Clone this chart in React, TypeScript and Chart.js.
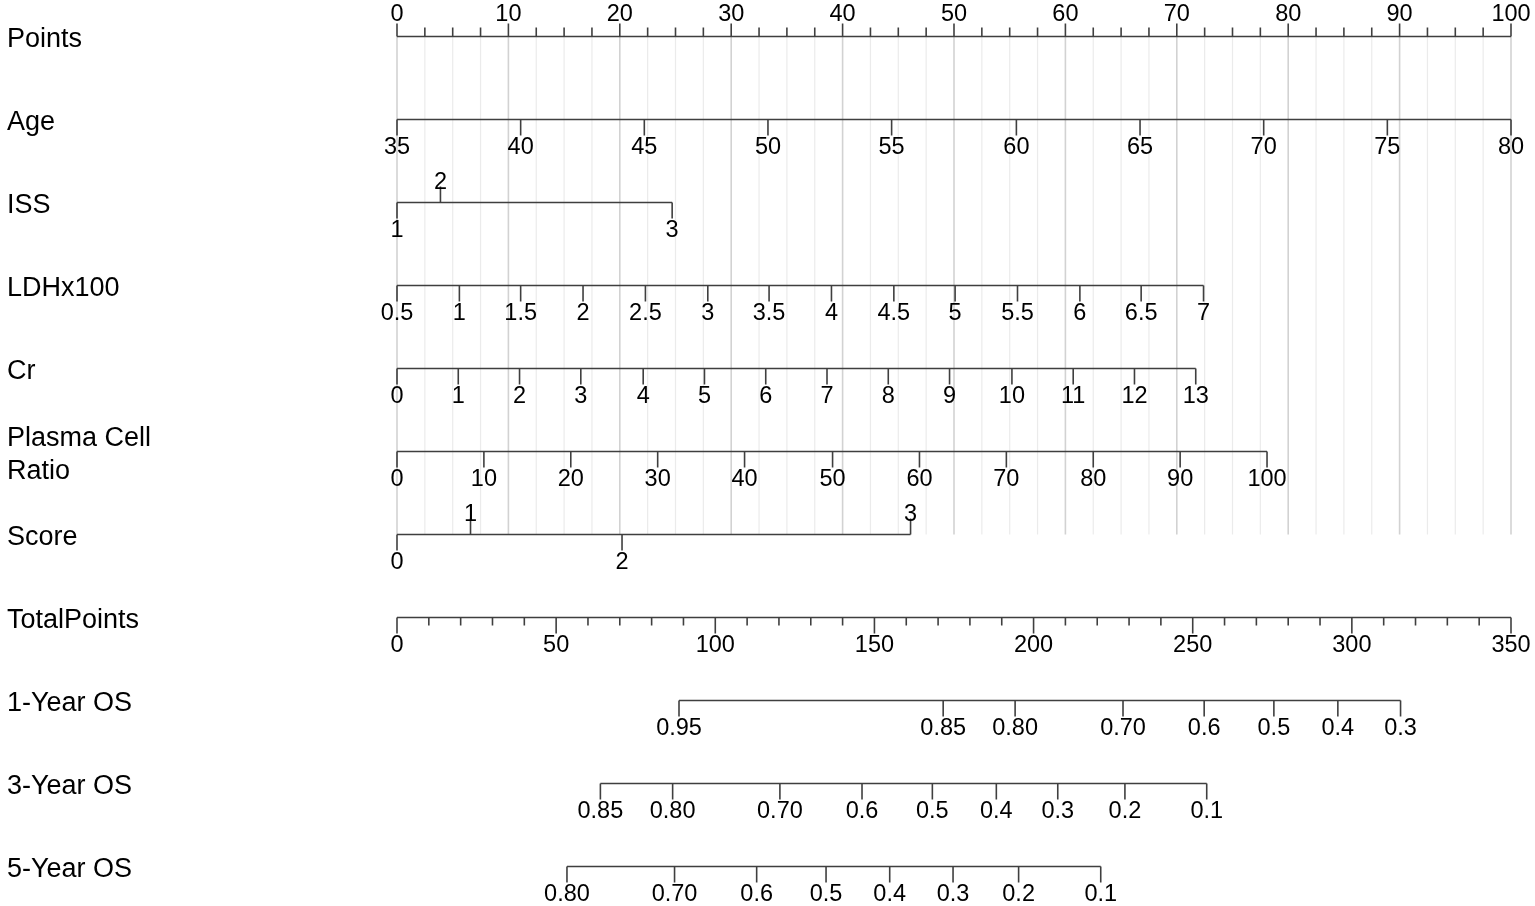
import React, { useEffect, useRef } from 'react';
import { Chart, registerables } from 'chart.js';

Chart.register(...registerables);

type Side = 'above' | 'below';

// row titles, top to bottom
const rowTitles = [
  'Points',
  'Age',
  'ISS',
  'LDHx100',
  'Cr',
  'Plasma Cell\nRatio',
  'Score',
  'TotalPoints',
  '1-Year OS',
  '3-Year OS',
  '5-Year OS',
];

// Points scale (0-100)
const pointsLabels = [0, 10, 20, 30, 40, 50, 60, 70, 80, 90, 100];
const pointsMinorStep = 2.5;

// predictors: tick labels and where they fall on the Points scale
const ageLabels = ['35', '40', '45', '50', '55', '60', '65', '70', '75', '80'];
const agePoints = [0, 11.1, 22.2, 33.3, 44.4, 55.6, 66.7, 77.8, 88.9, 100];

const issLabels = ['1', '2', '3'];
const issPoints = [0, 3.9, 24.7];
const issSides: Side[] = ['below', 'above', 'below'];

const ldhLabels = ['0.5', '1', '1.5', '2', '2.5', '3', '3.5', '4', '4.5', '5', '5.5', '6', '6.5', '7'];
const ldhPoints = [0, 5.6, 11.1, 16.7, 22.3, 27.9, 33.4, 39.0, 44.6, 50.1, 55.7, 61.3, 66.8, 72.4];

const crLabels = ['0', '1', '2', '3', '4', '5', '6', '7', '8', '9', '10', '11', '12', '13'];
const crPoints = [0, 5.5, 11.0, 16.5, 22.1, 27.6, 33.1, 38.6, 44.1, 49.6, 55.2, 60.7, 66.2, 71.7];

const plasmaLabels = ['0', '10', '20', '30', '40', '50', '60', '70', '80', '90', '100'];
const plasmaPoints = [0, 7.8, 15.6, 23.4, 31.2, 39.1, 46.9, 54.7, 62.5, 70.3, 78.1];

const scoreLabels = ['0', '1', '2', '3'];
const scorePoints = [0, 6.6, 20.2, 46.1];
const scoreSides: Side[] = ['below', 'above', 'below', 'above'];

// Total points scale (0-350)
const totalLabels = [0, 50, 100, 150, 200, 250, 300, 350];
const totalMinorStep = 10;

// survival probabilities on the Total points scale
const os1Labels = ['0.95', '0.85', '0.80', '0.70', '0.6', '0.5', '0.4', '0.3'];
const os1Total = [88.6, 171.6, 194.2, 228.1, 253.6, 275.5, 295.6, 315.3];

const os3Labels = ['0.85', '0.80', '0.70', '0.6', '0.5', '0.4', '0.3', '0.2', '0.1'];
const os3Total = [63.9, 86.6, 120.3, 146.1, 168.2, 188.3, 207.6, 228.7, 254.4];

const os5Labels = ['0.80', '0.70', '0.6', '0.5', '0.4', '0.3', '0.2', '0.1'];
const os5Total = [53.4, 87.2, 113.0, 134.8, 154.8, 174.7, 195.3, 221.1];

interface Row {
  scale: 'x' | 'x2';
  pos: number[];
  labels: string[];
  sides: Side[];
  minor: number[];
  majorLen: number;
  minorLen: number;
}

const minorTicks = (max: number, step: number, majors: number[]) => {
  const out: number[] = [];
  for (let v = 0; v <= max + 1e-9; v += step) {
    if (!majors.some((m) => Math.abs(m - v) < 1e-6)) out.push(v);
  }
  return out;
};

const below = (n: number): Side[] => new Array(n).fill('below');

const rows: Row[] = [
  {
    scale: 'x',
    pos: pointsLabels,
    labels: pointsLabels.map(String),
    sides: new Array(pointsLabels.length).fill('above'),
    minor: minorTicks(100, pointsMinorStep, pointsLabels),
    majorLen: 13,
    minorLen: 9,
  },
  { scale: 'x', pos: agePoints, labels: ageLabels, sides: below(ageLabels.length), minor: [], majorLen: 16, minorLen: 0 },
  { scale: 'x', pos: issPoints, labels: issLabels, sides: issSides, minor: [], majorLen: 16, minorLen: 0 },
  { scale: 'x', pos: ldhPoints, labels: ldhLabels, sides: below(ldhLabels.length), minor: [], majorLen: 16, minorLen: 0 },
  { scale: 'x', pos: crPoints, labels: crLabels, sides: below(crLabels.length), minor: [], majorLen: 16, minorLen: 0 },
  { scale: 'x', pos: plasmaPoints, labels: plasmaLabels, sides: below(plasmaLabels.length), minor: [], majorLen: 16, minorLen: 0 },
  { scale: 'x', pos: scorePoints, labels: scoreLabels, sides: scoreSides, minor: [], majorLen: 16, minorLen: 0 },
  {
    scale: 'x2',
    pos: totalLabels,
    labels: totalLabels.map(String),
    sides: below(totalLabels.length),
    minor: minorTicks(350, totalMinorStep, totalLabels),
    majorLen: 16,
    minorLen: 8,
  },
  { scale: 'x2', pos: os1Total, labels: os1Labels, sides: below(os1Labels.length), minor: [], majorLen: 16, minorLen: 0 },
  { scale: 'x2', pos: os3Total, labels: os3Labels, sides: below(os3Labels.length), minor: [], majorLen: 16, minorLen: 0 },
  { scale: 'x2', pos: os5Total, labels: os5Labels, sides: below(os5Labels.length), minor: [], majorLen: 16, minorLen: 0 },
];

const AXIS_COLOR = '#3f3f3f';
const FONT = '"Liberation Sans", Arial, sans-serif';

const nomogramPlugin = {
  id: 'nomogram',
  beforeDatasetsDraw(chart: any) {
    const { ctx } = chart;
    const x = chart.scales.x;
    const y = chart.scales.y;
    const yTop = y.getPixelForValue(0);
    const yBottom = y.getPixelForValue(6);
    ctx.save();
    for (let v = 0; v <= 100 + 1e-9; v += pointsMinorStep) {
      const px = x.getPixelForValue(v);
      const major = Math.abs(v % 10) < 1e-6;
      ctx.strokeStyle = major ? '#d2d2d2' : '#ebebeb';
      ctx.lineWidth = major ? 1.6 : 1.2;
      ctx.beginPath();
      ctx.moveTo(px, yTop);
      ctx.lineTo(px, yBottom);
      ctx.stroke();
    }
    ctx.restore();
  },
  afterDatasetsDraw(chart: any) {
    const { ctx } = chart;
    const y = chart.scales.y;
    ctx.save();
    ctx.strokeStyle = AXIS_COLOR;
    ctx.lineWidth = 1.6;
    ctx.fillStyle = '#000';
    rows.forEach((row, i) => {
      const sx = chart.scales[row.scale];
      const py = y.getPixelForValue(i);
      // minor ticks
      row.minor.forEach((v) => {
        const px = sx.getPixelForValue(v);
        const dir = i === 0 ? -1 : 1;
        ctx.beginPath();
        ctx.moveTo(px, py);
        ctx.lineTo(px, py + dir * row.minorLen);
        ctx.stroke();
      });
      // labelled ticks
      ctx.font = `23.5px ${FONT}`;
      ctx.textAlign = 'center';
      ctx.textBaseline = 'alphabetic';
      row.pos.forEach((v, k) => {
        const px = sx.getPixelForValue(v);
        const up = row.sides[k] === 'above';
        ctx.beginPath();
        ctx.moveTo(px, py);
        ctx.lineTo(px, py + (up ? -row.majorLen : row.majorLen));
        ctx.stroke();
        const ty = up ? py - (i === 0 ? 16 : 14) : py + 34;
        ctx.fillText(row.labels[k], px, ty);
      });
      // row title
      ctx.font = `27px ${FONT}`;
      ctx.textAlign = 'left';
      const lines = rowTitles[i].split('\n');
      if (lines.length === 1) {
        ctx.fillText(lines[0], 7, py + 10);
      } else {
        ctx.fillText(lines[0], 7, py - 6);
        ctx.fillText(lines[1], 7, py + 27);
      }
    });
    ctx.restore();
  },
};

export default function App() {
  const canvasRef = useRef<HTMLCanvasElement>(null);
  const chartRef = useRef<Chart | null>(null);

  useEffect(() => {
    if (!canvasRef.current) return;
    if (chartRef.current) chartRef.current.destroy();

    const datasets = rows.map((row, i) => ({
      type: 'line' as const,
      data: [
        { x: Math.min(...row.pos), y: i },
        { x: Math.max(...row.pos), y: i },
      ],
      xAxisID: row.scale,
      yAxisID: 'y',
      borderColor: AXIS_COLOR,
      borderWidth: 1.6,
      pointRadius: 0,
      clip: false as const,
    }));

    chartRef.current = new Chart(canvasRef.current, {
      type: 'line',
      data: { datasets },
      options: {
        responsive: true,
        maintainAspectRatio: false,
        animation: false,
        events: [],
        parsing: false,
        layout: { padding: { left: 397, right: 24, top: 36.5, bottom: 39.5 } },
        scales: {
          x: { type: 'linear', min: 0, max: 100, display: false },
          x2: { type: 'linear', min: 0, max: 350, display: false },
          y: { type: 'linear', min: 0, max: 10, reverse: true, display: false },
        },
        plugins: {
          legend: { display: false },
          tooltip: { enabled: false },
        },
      },
      plugins: [nomogramPlugin],
    });

    return () => {
      if (chartRef.current) {
        chartRef.current.destroy();
        chartRef.current = null;
      }
    };
  }, []);

  return (
    <div style={{ position: 'absolute', left: 0, top: 0, width: 1535, height: 906, background: '#fff' }}>
      <canvas ref={canvasRef}></canvas>
    </div>
  );
}
